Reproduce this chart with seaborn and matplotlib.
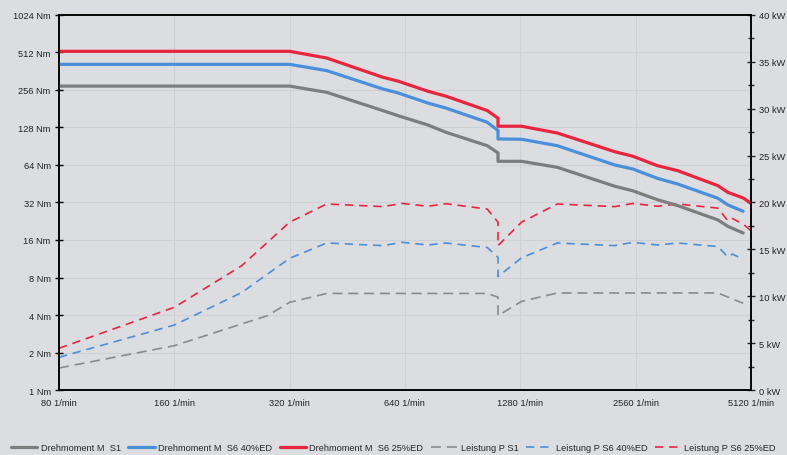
import numpy as np
import pandas as pd
import matplotlib
matplotlib.use("Agg")
import matplotlib.pyplot as plt
import seaborn as sns

# Drehzahl der Knickpunkte (1/min)
n_m = [80, 320, 400, 560, 615, 735, 820, 1050, 1120, 1120, 1290, 1600,
       2260, 2520, 2920, 3300, 4200, 4460, 4890]
m_s1 = [275, 275, 245, 175, 159, 134, 117, 91.4, 80, 68.5, 68.5, 61.3,
        43.2, 39.7, 33.7, 30.2, 23.2, 20.6, 18.2]
m_s6_40 = [411, 411, 366, 261, 242, 201, 183, 141, 121, 103.5, 103, 91.4,
           64, 59.4, 50, 45, 34.6, 30.6, 27.2]
n_m25 = n_m + [5120]
m_s6_25 = [523, 523, 462, 324, 301, 250, 228, 175, 152, 131, 131, 115.6,
           81.8, 75.2, 63.2, 57.6, 43.7, 38.6, 34.8, 31.6]

# Leistung (kW)
n_p1 = [80, 160, 280, 320, 400, 1050, 1120, 1120, 1290, 1600, 4200, 4890]
p_s1 = [2.35, 4.73, 7.93, 9.35, 10.3, 10.3, 9.9, 7.93, 9.45, 10.35, 10.35, 9.25]
n_p40 = [80, 160, 240, 320, 400, 560, 630, 735, 820, 1050, 1120, 1120, 1290,
         1600, 2260, 2520, 2920, 3300, 4200, 4460, 4580, 4890]
p_s6_40 = [3.49, 6.93, 10.4, 14.05, 15.68, 15.4, 15.75, 15.47, 15.68, 15.2,
           14.15, 12.1, 14.1, 15.68, 15.4, 15.75, 15.47, 15.68, 15.3, 14.2,
           14.5, 13.97]
n_p25 = n_p40 + [5120]
p_s6_25 = [4.45, 8.82, 13.26, 17.9, 19.84, 19.56, 19.9, 19.6, 19.87, 19.3,
           17.9, 15.4, 17.9, 19.84, 19.56, 19.9, 19.6, 19.84, 19.4, 18.05,
           18.3, 17.7, 17.0]

x_ticks = [80, 160, 320, 640, 1280, 2560, 5120]
y_ticks = [2 ** k for k in range(11)]
p_ticks = list(range(0, 45, 5))

grau, blau, rot = "#7d7d7d", "#4a8fdb", "#e8253f"
bg = "#dcdde0"
fs = 6.7

sns.set_style("white")
plt.rcParams["font.family"] = ["Liberation Sans", "DejaVu Sans"]
plt.rcParams["font.size"] = fs

fig = plt.figure(figsize=(7.87, 4.56), dpi=100, facecolor=bg)
ax = fig.add_axes([0.075, 0.1425, 0.879, 0.8225])
ax2 = ax.twinx()

sns.lineplot(x=n_p1, y=p_s1, ax=ax2, color="#8a8a8a", lw=1.2,
             estimator=None, sort=False, label="Leistung P S1")
sns.lineplot(x=n_p40, y=p_s6_40, ax=ax2, color=blau, lw=1.2,
             estimator=None, sort=False, label="Leistung P S6 40%ED")
sns.lineplot(x=n_p25, y=p_s6_25, ax=ax2, color=rot, lw=1.2,
             estimator=None, sort=False, label="Leistung P S6 25%ED")
ax2.lines[0].set_dashes([6, 3.5])
ax2.lines[1].set_dashes([5, 3.5])
ax2.lines[2].set_dashes([5, 3.5])

sns.lineplot(x=n_m, y=m_s1, ax=ax, color=grau, lw=2.3,
             estimator=None, sort=False, label="Drehmoment M  S1")
sns.lineplot(x=n_m, y=m_s6_40, ax=ax, color=blau, lw=2.3,
             estimator=None, sort=False, label="Drehmoment M  S6 40%ED")
sns.lineplot(x=n_m25, y=m_s6_25, ax=ax, color=rot, lw=2.3,
             estimator=None, sort=False, label="Drehmoment M  S6 25%ED")

ax.set_zorder(2)
ax.patch.set_visible(False)
ax2.set_zorder(1)
ax2.patch.set_facecolor(bg)
ax2.patch.set_visible(True)

ax.set_xscale("log", base=2)
ax.set_yscale("log", base=2)
ax.set_xlim(80, 5120)
ax.set_ylim(1, 1024)
ax2.set_ylim(0, 40)

ax.minorticks_off()
ax.set_xticks(x_ticks)
ax.set_xticklabels([f"{v} 1/min" for v in x_ticks])
ax.set_yticks(y_ticks)
ax.set_yticklabels([f"{v} Nm" for v in y_ticks])
ax2.set_yticks(p_ticks)
ax2.set_yticklabels([f"{v} kW" for v in p_ticks])
ax2.set_yticks(np.arange(2.5, 40, 5), minor=True)

# Gitter liegt auf der unteren Achse (ax2), damit es hinter allen Kurven bleibt
for v in x_ticks[1:-1]:
    ax2.axvline(v, color="#cfd0d3", lw=0.8, zorder=0)
ax2.set_xlim(80, 5120)
for v in y_ticks[1:-1]:
    ax2.axhline(np.log2(v) * 4, color="#cfd0d3", lw=0.8, zorder=0)
ax.set_xlabel("")
ax.set_ylabel("")
ax2.set_ylabel("")

for a in (ax, ax2):
    for s in a.spines.values():
        s.set_color("black")
        s.set_linewidth(1.1)
ax.tick_params(axis="both", direction="inout", length=6, width=1, colors="black",
               labelcolor="#222222", labelsize=fs, pad=3)
ax2.tick_params(axis="y", which="major", direction="inout", length=6, width=1,
                labelcolor="#222222", labelsize=fs, pad=3)
ax2.tick_params(axis="y", which="minor", direction="inout", length=4, width=1)

h1, l1 = ax.get_legend_handles_labels()
h2, l2 = ax2.get_legend_handles_labels()
ax.get_legend().remove()
ax2.get_legend().remove()
fig.legend(h1 + h2, l1 + l2, loc="lower center", bbox_to_anchor=(0.5, 0.0),
           ncol=6, frameon=False, handlelength=2.8, columnspacing=0.8,
           handletextpad=0.4, fontsize=fs, borderaxespad=0.1, borderpad=0.2)

fig.savefig("out.png", dpi=100, facecolor=bg)
